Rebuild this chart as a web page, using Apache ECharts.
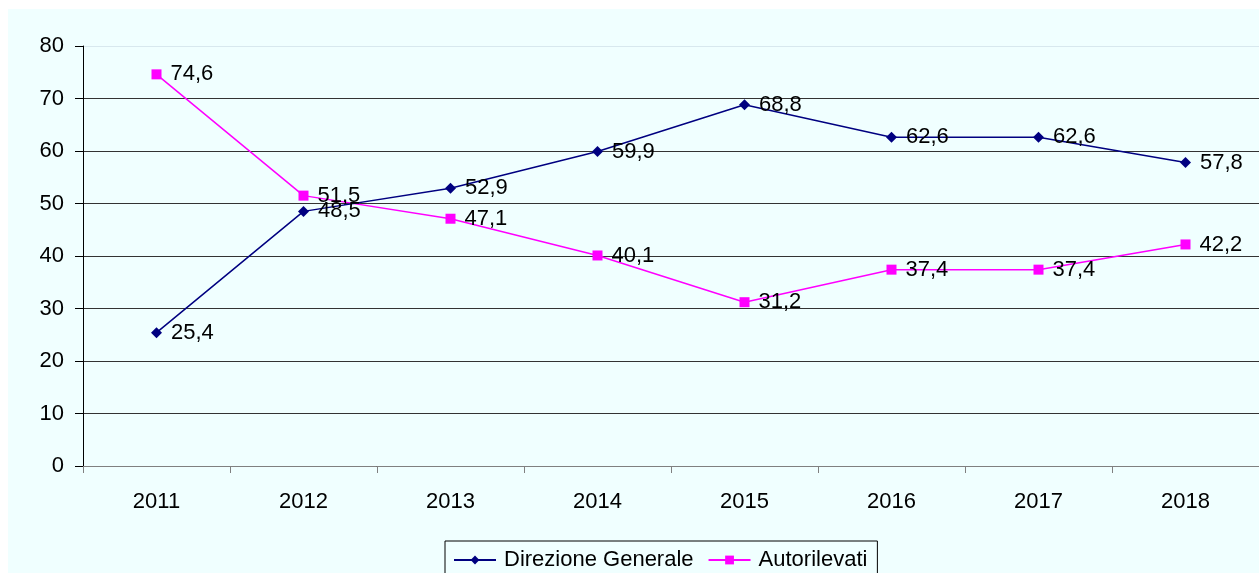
<!DOCTYPE html>
<html>
<head>
<meta charset="utf-8">
<script src="https://cdn.jsdelivr.net/npm/echarts@6/dist/echarts.min.js"></script>
<style>
  html, body { margin: 0; padding: 0; background: #ffffff; }
  #chart { width: 1259px; height: 573px; }
</style>
</head>
<body>
<div id="chart"></div>
<script>
var years = ['2011', '2012', '2013', '2014', '2015', '2016', '2017', '2018'];
var direzioneGenerale = [25.4, 48.5, 52.9, 59.9, 68.8, 62.6, 62.6, 57.8];
var autorilevati = [74.6, 51.5, 47.1, 40.1, 31.2, 37.4, 37.4, 42.2];

var chart = echarts.init(document.getElementById('chart'));

// Italian decimal comma
var labelFmt = function (p) {
    return String(p.value).replace('.', ',');
};

chart.setOption({
    animation: false,
    textStyle: {
        fontFamily: 'Liberation Sans, Arial, sans-serif'
    },

    // Light cyan chart area with a thin white margin
    graphic: [{
        type: 'rect',
        z: -10,
        silent: true,
        shape: { x: 8, y: 9, width: 1260, height: 570 },
        style: { fill: '#f0ffff' }
    }],

    grid: {
        left: 83,
        right: 0,
        top: 46,
        bottom: 107
    },

    legend: {
        left: 445,
        top: 541,
        padding: [8, 10, 14, 8],
        itemGap: 14,
        itemWidth: 42,
        itemHeight: 11,
        borderColor: '#000',
        borderWidth: 1,
        backgroundColor: '#f0ffff',
        textStyle: { fontSize: 22, color: '#000', padding: [0, 0, 0, 3] },
        data: ['Direzione Generale', 'Autorilevati']
    },

    xAxis: {
        type: 'category',
        data: years,
        boundaryGap: true,
        axisLine: { lineStyle: { color: '#808080', width: 1 } },
        axisTick: {
            show: true,
            length: 7,
            lineStyle: { color: '#808080' }
        },
        axisLabel: {
            color: '#000',
            fontSize: 22,
            margin: 25
        },
        splitLine: { show: false }
    },

    yAxis: {
        type: 'value',
        min: 0,
        max: 80,
        interval: 10,
        axisLine: { show: true, lineStyle: { color: '#000', width: 1 } },
        axisTick: {
            show: true,
            length: 8,
            lineStyle: { color: '#000' }
        },
        axisLabel: {
            color: '#000',
            fontSize: 22,
            margin: 19
        },
        splitLine: {
            show: true,
            lineStyle: {
                color: ['#333', '#333', '#333', '#333', '#333', '#333', '#333', '#333', '#d8e8ee'],
                width: 1
            }
        }
    },

    series: [
        {
            name: 'Direzione Generale',
            type: 'line',
            data: direzioneGenerale,
            symbol: 'diamond',
            symbolSize: 11,
            color: '#000080',
            lineStyle: { width: 1.5, color: '#000080' },
            itemStyle: { color: '#000080' },
            label: {
                show: true,
                position: 'right',
                distance: 9,
                color: '#000',
                fontSize: 22,
                formatter: labelFmt
            },
            z: 3
        },
        {
            name: 'Autorilevati',
            type: 'line',
            data: autorilevati,
            symbol: 'rect',
            symbolSize: 10,
            color: '#ff00ff',
            lineStyle: { width: 1.5, color: '#ff00ff' },
            itemStyle: { color: '#ff00ff' },
            label: {
                show: true,
                position: 'right',
                distance: 9,
                color: '#000',
                fontSize: 22,
                formatter: labelFmt
            },
            z: 2
        }
    ]
});

window.addEventListener('resize', function () {
    chart.resize();
});
</script>
</body>
</html>
